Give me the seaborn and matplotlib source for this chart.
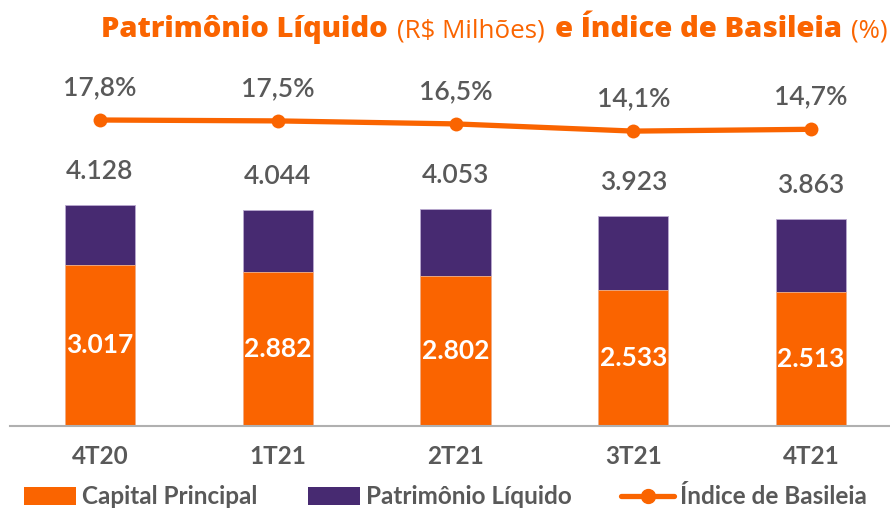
import matplotlib
matplotlib.use("Agg")
import matplotlib.pyplot as plt
import seaborn as sns
import numpy as np
from matplotlib.patches import Patch
from matplotlib.lines import Line2D
from matplotlib.offsetbox import TextArea, HPacker, AnchoredOffsetbox

# Data (R$ milhões and %)
quarters = ["4T20", "1T21", "2T21", "3T21", "4T21"]
capital_principal = [3017, 2882, 2802, 2533, 2513]
patrimonio_liquido = [4128, 4044, 4053, 3923, 3863]
indice_basileia = [17.8, 17.5, 16.5, 14.1, 14.7]

ORANGE = "#FA6400"
PURPLE = "#472A71"
GREY = "#595959"
FONT = "Lato"

sns.set_theme(style="white")
plt.rcParams["font.family"] = [FONT, "DejaVu Sans"]

fig = plt.figure(figsize=(8.9, 5.08), dpi=100)
ax = fig.add_axes([10 / 890, 82 / 508, 880 / 890, 366 / 508])

# Total equity bar (purple) with core capital (orange) drawn over its base
sns.barplot(x=quarters, y=patrimonio_liquido, color=PURPLE, width=0.395,
            saturation=1, ax=ax, edgecolor="#B9A9D0", linewidth=0.6)
sns.barplot(x=quarters, y=capital_principal, color=ORANGE, width=0.395,
            saturation=1, ax=ax, edgecolor="#F7B48A", linewidth=0.6)

ax.set_xlim(-0.506, 4.444)
ax.set_ylim(0, 6841)
ax.set_yticks([])
ax.set_ylabel("")
for s in ["top", "left", "right"]:
    ax.spines[s].set_visible(False)
ax.spines["bottom"].set_color("#B0B0B0")
ax.spines["bottom"].set_linewidth(1.5)
ax.tick_params(axis="x", length=0, pad=14, labelsize=17.5, labelcolor=GREY)
for lbl in ax.get_xticklabels():
    lbl.set_fontweight("bold")

for i, (cp, pl) in enumerate(zip(capital_principal, patrimonio_liquido)):
    ax.text(i, cp / 2, f"{cp:,}".replace(",", "."), ha="center", va="center",
            color="white", fontsize=19, fontweight="bold")
    ax.annotate(f"{pl:,}".replace(",", "."), (i, pl), xytext=(0, 24),
                textcoords="offset points", ha="center", va="center",
                color=GREY, fontsize=19, fontweight="semibold")

# Basel index on a secondary scale
ax2 = ax.twinx()
x_pos = np.arange(len(quarters))
sns.lineplot(x=x_pos, y=indice_basileia, ax=ax2, color=ORANGE, linewidth=3.8,
             marker="o", markersize=10, markeredgewidth=0, sort=False)
ax2.set_ylim(-84.2, 37.8)
ax2.set_yticks([])
for s in ["top", "left", "right", "bottom"]:
    ax2.spines[s].set_visible(False)
for i, v in enumerate(indice_basileia):
    ax2.annotate(f"{v:.1f}%".replace(".", ","), (i, v), xytext=(0, 23.5),
                 textcoords="offset points", ha="center", va="center",
                 color=GREY, fontsize=19, fontweight="semibold")

# Title with mixed weights
tp_b = dict(color=ORANGE, fontsize=21, fontweight="heavy", family="Open Sans")
tp_l = dict(color=ORANGE, fontsize=18.6, fontweight="normal", family="Open Sans")
parts = [TextArea("Patrimônio Líquido", textprops=tp_b),
         TextArea("(R$ Milhões)", textprops=tp_l),
         TextArea("e Índice de Basileia", textprops=tp_b),
         TextArea("(%)", textprops=tp_l)]
title = HPacker(children=parts, align="baseline", pad=0, sep=7)
anch = AnchoredOffsetbox(loc="upper right", child=title, pad=0, frameon=False,
                         bbox_to_anchor=(888 / 890, 1 - 15 / 508),
                         bbox_transform=fig.transFigure, borderpad=0)
fig.add_artist(anch)

# Legend
handles = [Patch(facecolor=ORANGE, edgecolor="none"),
           Patch(facecolor=PURPLE, edgecolor="none"),
           Line2D([0], [0], color=ORANGE, lw=3.8, marker="o", markersize=10)]
labels = ["Capital Principal", "Patrimônio Líquido", "Índice de Basileia"]
leg = fig.legend(handles, labels, loc="center left", ncol=3,
                 bbox_to_anchor=(24 / 890, 1 - 497 / 508), frameon=False,
                 prop=dict(family=FONT, weight="bold", size=17.5),
                 labelcolor=GREY, handlelength=2.15, handleheight=0.75,
                 handletextpad=0.25, columnspacing=2.05, borderpad=0,
                 borderaxespad=0)

fig.savefig("out.png", dpi=100)
